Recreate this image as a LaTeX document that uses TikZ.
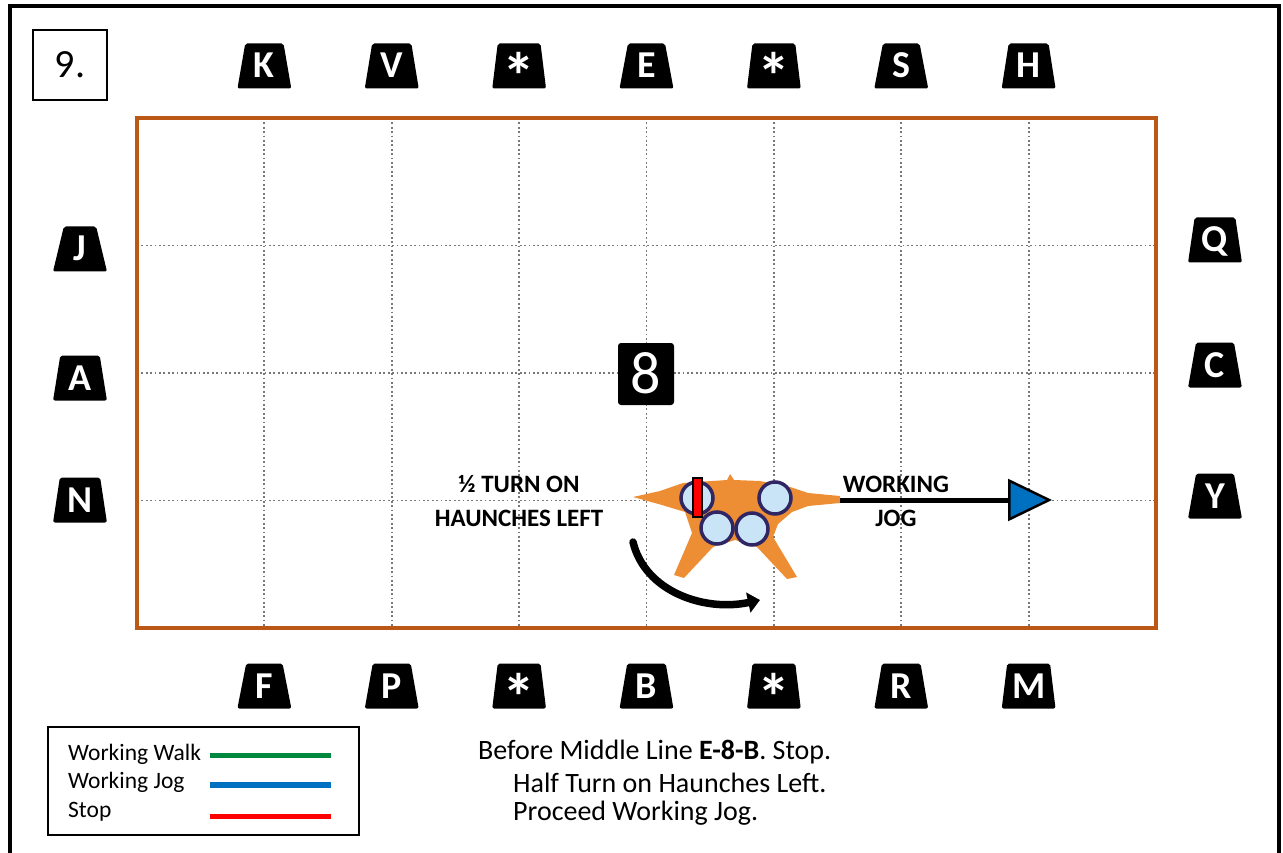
\documentclass[tikz,border=0pt]{standalone}
\usepackage{fontspec}
\setmainfont{Carlito}
\usetikzlibrary{shapes.geometric,arrows.meta}

\definecolor{arenabrown}{RGB}{188,88,22}
\definecolor{horseorange}{RGB}{238,142,52}
\definecolor{hoofblue}{RGB}{200,228,246}
\definecolor{hoofrim}{RGB}{48,38,100}
\definecolor{walkgreen}{RGB}{0,136,62}
\definecolor{jogblue}{RGB}{0,112,192}
\definecolor{stopred}{RGB}{255,0,0}
\definecolor{gridgray}{RGB}{120,120,120}

% the asterisk markers sit lower and larger than the letters
\newcommand{\markstar}{\raisebox{-22pt}{\fontsize{66}{66}\selectfont *}}

\tikzset{
	letter/.style={trapezium, trapezium angle=80, trapezium stretches=true,
		minimum width=54pt, minimum height=45pt, inner sep=0pt, rounded corners=2pt,
		fill=black, text=white, text height=24pt, text depth=0pt,
		font=\fontsize{38}{38}\selectfont\bfseries},
	gridline/.style={gridgray, line width=1.8pt, dash pattern=on 1.8pt off 2.6pt},
	hoof/.style={fill=hoofblue, draw=hoofrim, line width=3.5pt},
	movelabel/.style={align=center, font=\fontsize{25}{34}\selectfont\bfseries},
	legendtext/.style={anchor=base west, inner sep=0pt, font=\fontsize{23.5}{26}\selectfont},
	notetext/.style={anchor=base west, inner sep=0pt, font=\fontsize{28}{30}\selectfont},
}

\begin{document}
\begin{tikzpicture}[x=1pt, y=-1pt]
			%%%%% START %%%%%
			\useasboundingbox (0,0) rectangle (1283,853);
			
			% page frame, open at the bottom
			\draw[line width=4pt] (10,853) -- (10,6) -- (1279,6) -- (1279,853);
			
			\node[draw, line width=2.5pt, minimum width=74pt, minimum height=70pt, inner sep=0pt,
				text height=25pt, text depth=0pt, font=\fontsize{40}{40}\selectfont] (num) at (70,65) {9.};
			
			% arena grid
			\foreach \i in {1,...,7}
				\draw[gridline] ({137+\i*127.375},118) -- ({137+\i*127.375},628);
			\foreach \j in {1,2,3}
				\draw[gridline] (137,{118+\j*127.5}) -- (1156,{118+\j*127.5});
			\draw[arenabrown, line width=4pt] (137,118) rectangle (1156,628);
			
			% letters round the arena
			\foreach \lab [count=\i] in {K,V,\markstar,E,\markstar,S,H}
				\node[letter] (top\i) at ({137+\i*127.375},66) {\lab};
			\foreach \lab [count=\i] in {F,P,\markstar,B,\markstar,R,M}
				\node[letter] (bot\i) at ({137+\i*127.375},686) {\lab};
			\foreach \lab/\y in {J/249, A/378, N/500}
				\node[letter] (left\lab) at (80,\y) {\lab};
			\foreach \lab/\y in {Q/240, C/365, Y/496}
				\node[letter] (right\lab) at (1215,\y) {\lab};
			
			\node[fill=black, rounded corners=3pt, minimum width=56pt, minimum height=62pt, inner sep=0pt,
				text=white, text height=38pt, text depth=0pt, font=\fontsize{60}{60}\selectfont] (mid8) at (646,374) {8};
			
			% horse, seen from above
			\coordinate (tail) at (633,497);
			\coordinate (neck) at (840,500);
			\coordinate (jogend) at (1052,500);
			\fill[horseorange] (tail) -- (660,491) -- (683,483) -- (712,481) -- (727,480) -- (730,474)
				-- (734,480) -- (760,481) -- (790,487) -- (808,493) -- (840,496) -- (840,503) -- (808,506)
				-- (792,512) -- (778,524) -- (773,537) -- (797,577) -- (787,579) -- (757,547) -- (735,540)
				-- (713,547) -- (684,578) -- (674,575) -- (692,533) -- (685,512) -- (662,505) -- cycle;
			\draw[hoof] (717,528) circle (16);
			\draw[hoof] (752,529) circle (16);
			\draw[hoof] (697,498) circle (16);
			\draw[hoof] (775,498) circle (16);
			\filldraw[fill=stopred, draw=black, line width=1.5pt] (693,478) rectangle (702,517);
			
			% half turn
			\draw[line width=7.5pt, line cap=round, -{Triangle[length=12pt, width=20pt]}]
				(633,542) .. controls (645,592) and (705,612) .. (760,600);
			
			% working jog
			\draw[line width=5pt, -{Triangle[length=44pt, width=42pt, fill=jogblue, line width=2.5pt]}] (neck) -- (jogend);
			
			\node[movelabel] (turnlbl) at (519,501) {½ TURN ON\\HAUNCHES LEFT};
			\node[movelabel] (joglbl) at (896,501) {WORKING\\JOG};
			
			% legend
			\draw[line width=1.5pt] (48,727) rectangle (359,835);
			\node[legendtext] (walktxt) at (68,760) {Working Walk};
			\node[legendtext] (jogtxt) at (68,788) {Working Jog};
			\node[legendtext] (stoptxt) at (68,817) {Stop};
			\draw[walkgreen, line width=5pt] (210,755) -- (331,755);
			\draw[jogblue, line width=6pt] (210,785) -- (331,785);
			\draw[stopred, line width=5pt] (210,816.5) -- (331,816.5);
			
			% test of the movement
			\node[notetext] (note1) at (478,759) {Before Middle Line \textbf{E-8-B}. Stop.};
			\node[notetext] (note2) at (513,792) {Half Turn on Haunches Left.};
			\node[notetext] (note3) at (513,820) {Proceed Working Jog.};
			
			%%%%% END %%%%%
\end{tikzpicture}
\end{document}
